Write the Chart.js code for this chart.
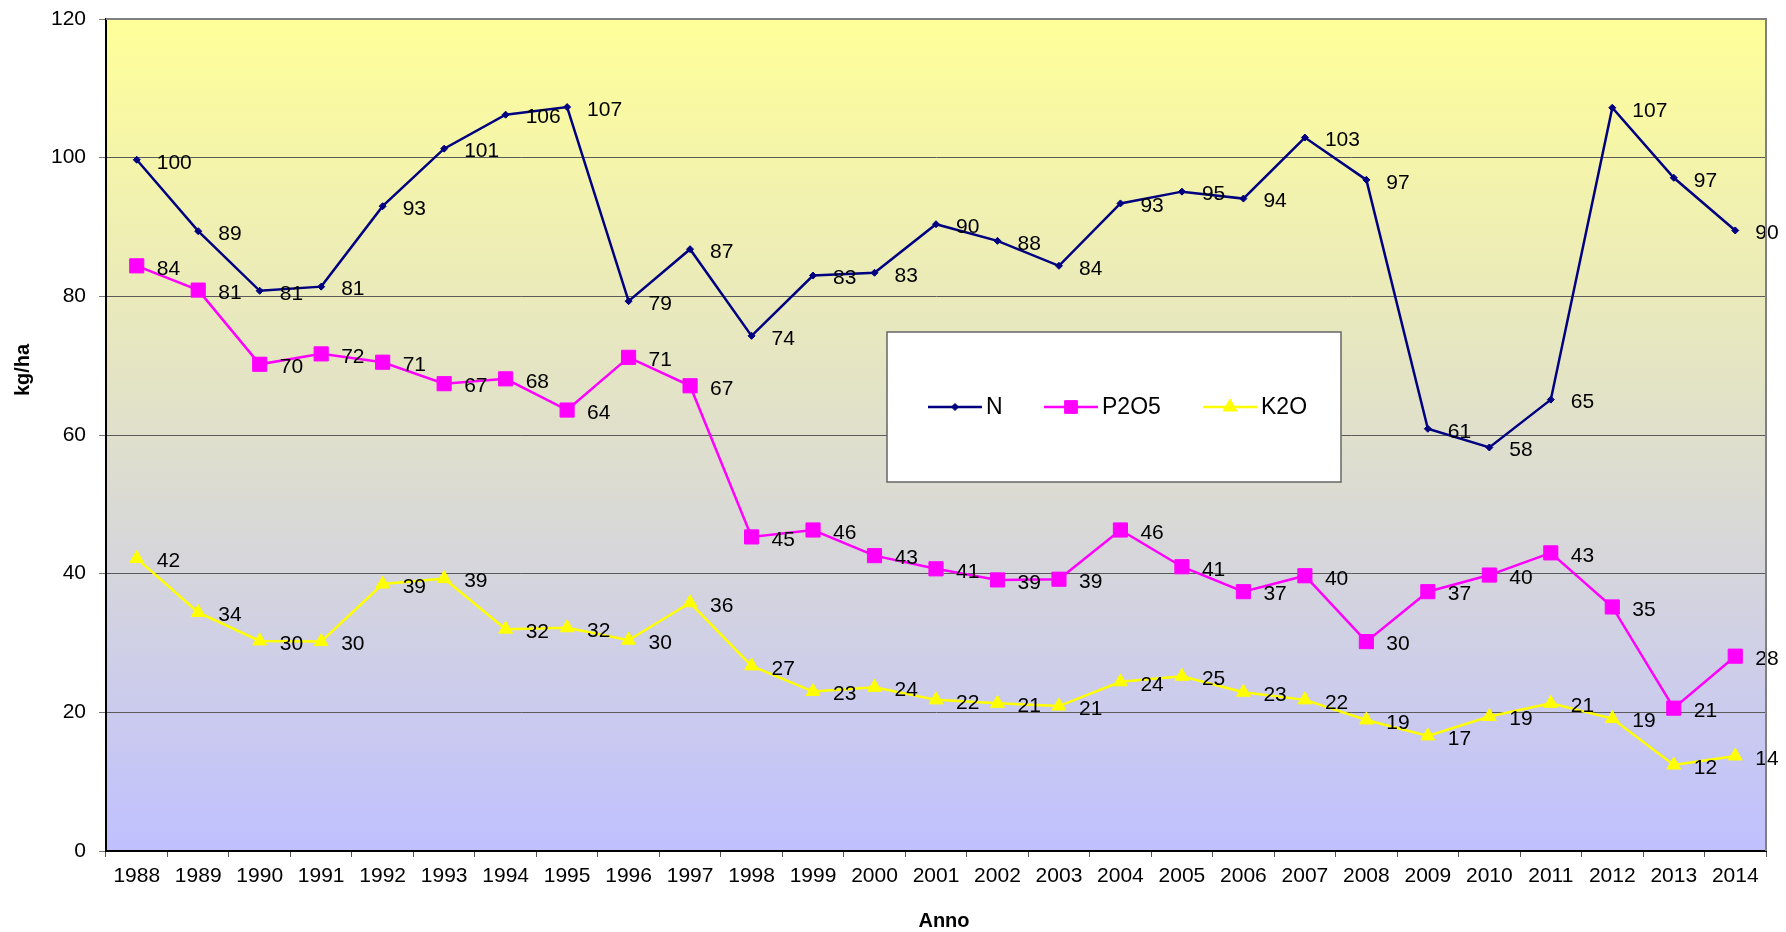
<!DOCTYPE html>
<html>
<head>
<meta charset="utf-8">
<script src="https://cdn.jsdelivr.net/npm/chart.js@4/dist/chart.umd.min.js"></script>
<style>
  html, body { margin: 0; padding: 0; background: #fff; }
  #wrap { width: 1786px; height: 932px; }
</style>
</head>
<body>
<div id="wrap"><canvas id="chart"></canvas></div>
<script>
const years = ['1988','1989','1990','1991','1992','1993','1994','1995','1996','1997','1998','1999','2000',
  '2001','2002','2003','2004','2005','2006','2007','2008','2009','2010','2011','2012','2013','2014'];

const nValues = [99.7, 89.4, 80.8, 81.4, 93.0, 101.3, 106.2, 107.3, 79.3, 86.8, 74.3, 83.0, 83.4,
  90.4, 88.0, 84.4, 93.4, 95.1, 94.1, 102.9, 96.8, 60.9, 58.2, 65.1, 107.2, 97.1, 89.5];

const p2o5Values = [84.4, 80.9, 70.2, 71.7, 70.5, 67.4, 68.1, 63.6, 71.2, 67.1, 45.3, 46.3, 42.6,
  40.7, 39.1, 39.2, 46.3, 41.0, 37.4, 39.7, 30.2, 37.4, 39.8, 43.0, 35.2, 20.6, 28.1];

const k2oValues = [42.2, 34.4, 30.3, 30.2, 38.5, 39.3, 32.0, 32.2, 30.4, 35.8, 26.7, 23.0, 23.6,
  21.8, 21.3, 20.9, 24.4, 25.2, 22.9, 21.8, 18.9, 16.6, 19.4, 21.3, 19.1, 12.4, 13.7];

const yTicks = [0, 20, 40, 60, 80, 100, 120];

const FONT = '"Liberation Sans", Arial, sans-serif';

// plot background: yellow at the top fading to lavender at the bottom
const plotBackground = {
    id: 'plotBackground',
    beforeDraw(chart) {
        const { ctx, chartArea: a } = chart;
        const g = ctx.createLinearGradient(0, a.top, 0, a.bottom);
        g.addColorStop(0, '#FFFF99');
        g.addColorStop(1, '#C0C0FF');
        ctx.save();
        ctx.fillStyle = g;
        ctx.fillRect(a.left, a.top, a.right - a.left, a.bottom - a.top);
        ctx.restore();
    },
    afterDraw(chart) {
        const { ctx, chartArea: a } = chart;
        ctx.save();
        ctx.strokeStyle = '#808080';
        ctx.lineWidth = 2;
        ctx.beginPath();
        ctx.moveTo(a.left, a.top);
        ctx.lineTo(a.right, a.top);
        ctx.lineTo(a.right, a.bottom);
        ctx.stroke();
        ctx.restore();
    }
};

// value labels to the right of every point
const valueLabels = {
    id: 'valueLabels',
    afterDatasetsDraw(chart) {
        const { ctx } = chart;
        ctx.save();
        ctx.font = '21px ' + FONT;
        ctx.fillStyle = '#000';
        ctx.textAlign = 'left';
        ctx.textBaseline = 'middle';
        chart.data.datasets.forEach((ds, i) => {
            chart.getDatasetMeta(i).data.forEach((pt, j) => {
                ctx.fillText(String(Math.round(ds.data[j])), pt.x + 20, pt.y + 3);
            });
        });
        ctx.restore();
    }
};

// boxed legend inside the plot plus both axis titles
const boxLegend = {
    id: 'boxLegend',
    afterDraw(chart) {
        const { ctx } = chart;
        ctx.save();
        ctx.fillStyle = '#fff';
        ctx.fillRect(887, 332, 454, 150);
        ctx.strokeStyle = '#666';
        ctx.lineWidth = 1.5;
        ctx.strokeRect(887, 332, 454, 150);

        const starts = [928, 1044, 1203];
        const y = 407;
        ctx.font = '23px ' + FONT;
        ctx.textBaseline = 'middle';
        chart.data.datasets.forEach((ds, i) => {
            const x0 = starts[i];
            ctx.strokeStyle = ds.borderColor;
            ctx.fillStyle = ds.borderColor;
            ctx.lineWidth = 2.5;
            ctx.beginPath();
            ctx.moveTo(x0, y);
            ctx.lineTo(x0 + 54, y);
            ctx.stroke();
            ctx.lineWidth = 1;
            Chart.helpers.drawPoint(ctx, {
                pointStyle: ds.pointStyle,
                radius: ds.legendRadius,
                borderWidth: 1
            }, x0 + 27, y);
            ctx.fillStyle = '#000';
            ctx.textAlign = 'left';
            ctx.fillText(ds.label, x0 + 58, y + 1);
        });

        ctx.font = 'bold 20px ' + FONT;
        ctx.fillStyle = '#000';
        ctx.textAlign = 'center';
        ctx.fillText('Anno', 944, 921);
        ctx.translate(23, 370);
        ctx.rotate(-Math.PI / 2);
        ctx.fillText('kg/ha', 0, 0);
        ctx.restore();
    }
};

const makeSet = (label, data, color, style, radius, legendRadius) => ({
    label,
    data,
    borderColor: color,
    backgroundColor: color,
    pointBackgroundColor: color,
    pointBorderColor: color,
    pointBorderWidth: 1,
    pointStyle: style,
    pointRadius: radius,
    pointHoverRadius: radius,
    legendRadius,
    borderWidth: 2.5,
    tension: 0,
    fill: false
});

new Chart(document.getElementById('chart').getContext('2d'), {
    type: 'line',
    data: {
        labels: years,
        datasets: [
            makeSet('N', nValues, '#000080', 'rectRot', 3.5, 3.5),
            makeSet('P2O5', p2o5Values, '#FF00FF', 'rect', 10, 9),
            makeSet('K2O', k2oValues, '#FFFF00', 'triangle', 8, 8)
        ]
    },
    options: {
        responsive: true,
        maintainAspectRatio: false,
        animation: false,
        events: [],
        layout: { padding: { top: 19, right: 20, left: 0, bottom: 0 } },
        plugins: {
            legend: { display: false },
            tooltip: { enabled: false }
        },
        scales: {
            x: {
                type: 'category',
                offset: true,
                afterFit(scale) {
                    scale.height = 81;
                    scale.paddingLeft = 0;
                    scale.paddingRight = 0;
                },
                grid: {
                    offset: true,
                    drawOnChartArea: false,
                    drawTicks: true,
                    tickLength: 6,
                    color: '#555',
                    lineWidth: 1
                },
                border: { color: '#000', width: 2 },
                ticks: {
                    font: { family: FONT, size: 21 },
                    color: '#000',
                    padding: 7,
                    maxRotation: 0,
                    autoSkip: false
                }
            },
            y: {
                min: 0,
                max: 120,
                afterFit(scale) {
                    scale.width = 106;
                    scale.paddingTop = 0;
                    scale.paddingBottom = 0;
                },
                afterBuildTicks(scale) { scale.ticks = yTicks.map(v => ({ value: v })); },
                grid: {
                    color: '#5a5a5a',
                    lineWidth: 1,
                    tickLength: 7,
                    tickColor: '#777'
                },
                border: { color: '#000', width: 2 },
                ticks: {
                    font: { family: FONT, size: 21 },
                    color: '#000',
                    padding: 13
                }
            }
        }
    },
    plugins: [plotBackground, valueLabels, boxLegend]
});
</script>
</body>
</html>
